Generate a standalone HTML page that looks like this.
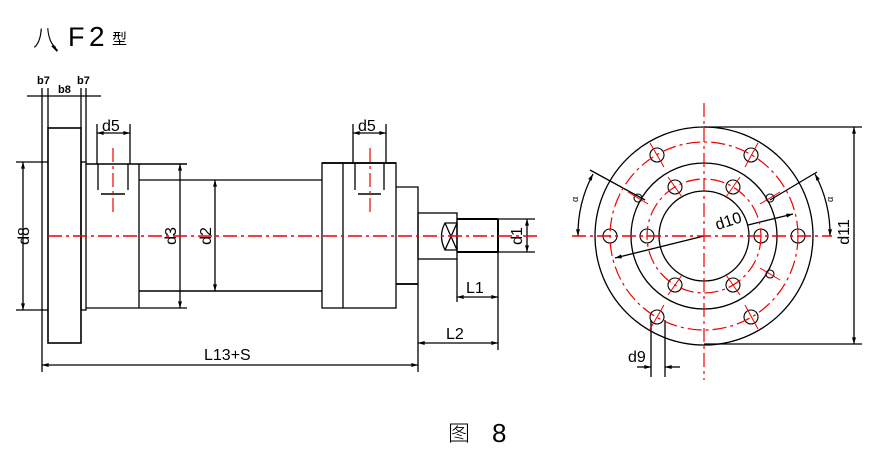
<!DOCTYPE html>
<html><head><meta charset="utf-8"><style>
html,body{margin:0;padding:0;background:#fff;}
svg{display:block;}
text{font-family:"Liberation Sans","Noto Sans CJK SC",sans-serif;fill:#000;}
</style></head><body>
<svg width="870" height="451" viewBox="0 0 870 451" xmlns="http://www.w3.org/2000/svg">
<defs>
<marker id="a" viewBox="0 0 10 6" refX="10" refY="3" markerWidth="7" markerHeight="4" orient="auto-start-reverse" markerUnits="userSpaceOnUse"><path d="M0,0L10,3L0,6z" fill="#000"/></marker>
</defs>
<text x="33" y="46" font-size="24" font-family="Noto Sans CJK SC,sans-serif" font-weight="300">八</text>
<text x="50" y="50" font-size="24" font-family="WenQuanYi Zen Hei,Noto Sans CJK SC,sans-serif">、</text>
<text x="68" y="46" font-size="27" font-weight="300">F</text>
<text x="89" y="46" font-size="28" font-weight="300">2</text>
<text x="112" y="44" font-size="15" font-family="Noto Sans CJK SC,sans-serif">型</text>
<text x="448" y="441" font-size="22" font-family="Noto Sans CJK SC,sans-serif" font-weight="300">图</text>
<text x="492" y="442" font-size="26" font-weight="300">8</text>

<g stroke="#000" fill="none" stroke-width="1.3">
<line x1="42" y1="88" x2="42" y2="372"/>
<rect x="48" y="128" width="33" height="215" stroke-width="1.6"/>
<line x1="48" y1="88" x2="48" y2="128"/><line x1="81" y1="88" x2="81" y2="128"/><line x1="86" y1="88" x2="86" y2="162"/>
<line x1="27" y1="96" x2="101" y2="96"/>
<rect x="81" y="162" width="5" height="148"/>
<line x1="16" y1="162" x2="48" y2="162"/><line x1="16" y1="310" x2="48" y2="310"/>
<line x1="23" y1="162" x2="23" y2="310" marker-start="url(#a)" marker-end="url(#a)"/>
<line x1="86" y1="164" x2="187" y2="164" stroke-width="1.6"/>
<line x1="86" y1="308" x2="187" y2="308"/>
<line x1="139" y1="164" x2="139" y2="308"/>
<line x1="139" y1="180" x2="322" y2="180"/><line x1="139" y1="291" x2="322" y2="291" stroke-width="1.6"/>
<line x1="180" y1="164" x2="180" y2="308" marker-start="url(#a)" marker-end="url(#a)"/>
<line x1="215" y1="180" x2="215" y2="291" marker-start="url(#a)" marker-end="url(#a)"/>
<line x1="98" y1="164" x2="98" y2="190"/><line x1="128" y1="164" x2="128" y2="190"/>
<line x1="101" y1="194" x2="125" y2="194" stroke-width="1.6"/>
<line x1="97" y1="124" x2="97" y2="164"/><line x1="130" y1="124" x2="130" y2="164"/>
<line x1="97" y1="133" x2="130" y2="133" marker-start="url(#a)" marker-end="url(#a)"/>
<rect x="322" y="163" width="74" height="145"/>
<line x1="322" y1="163" x2="396" y2="163" stroke-width="1.8"/>
<line x1="343" y1="163" x2="343" y2="308"/>
<line x1="355" y1="163" x2="355" y2="190"/><line x1="384" y1="163" x2="384" y2="190"/>
<line x1="358" y1="194" x2="381" y2="194" stroke-width="1.6"/>
<line x1="353" y1="124" x2="353" y2="163"/><line x1="386" y1="124" x2="386" y2="163"/>
<line x1="353" y1="133" x2="386" y2="133" marker-start="url(#a)" marker-end="url(#a)"/>
<path d="M396,187H418V284H396"/><line x1="396" y1="284" x2="418" y2="284" stroke-width="1.8"/>
<rect x="418" y="213" width="39" height="46"/>
<rect x="457" y="219" width="41" height="33" stroke-width="1.2"/>
<line x1="457" y1="219" x2="498" y2="219" stroke-width="2"/><line x1="457" y1="252" x2="498" y2="252" stroke-width="2"/>
<line x1="498" y1="219" x2="498" y2="252" stroke-width="2"/>
<path d="M445,223H457V250H445Q438,236 445,223ZM445,223L457,250M457,223L445,250"/>
<line x1="498" y1="219" x2="535" y2="219"/><line x1="498" y1="252" x2="535" y2="252"/>
<line x1="527" y1="219" x2="527" y2="252" marker-start="url(#a)" marker-end="url(#a)"/>
<line x1="457" y1="259" x2="457" y2="302"/><line x1="498" y1="252" x2="498" y2="350"/>
<line x1="418" y1="284" x2="418" y2="372"/>
<line x1="457" y1="297" x2="498" y2="297" marker-start="url(#a)" marker-end="url(#a)"/>
<line x1="418" y1="343" x2="498" y2="343" marker-start="url(#a)" marker-end="url(#a)"/>
<line x1="42" y1="365" x2="418" y2="365" marker-start="url(#a)" marker-end="url(#a)"/>
<circle cx="704" cy="236" r="109"/>
<circle cx="704" cy="236" r="73"/>
<circle cx="704" cy="236" r="45"/>
<g stroke-width="1.1">
<circle cx="610" cy="236" r="7"/><circle cx="798" cy="236" r="7"/>
<circle cx="657" cy="155" r="7"/><circle cx="751" cy="155" r="7"/>
<circle cx="657" cy="317" r="7"/><circle cx="751" cy="317" r="7"/>
<circle cx="647" cy="236" r="7"/><circle cx="761" cy="236" r="7"/>
<circle cx="675" cy="187" r="7"/><circle cx="733" cy="187" r="7"/>
<circle cx="675" cy="285" r="7"/><circle cx="733" cy="285" r="7"/>
<circle cx="638" cy="198" r="4"/><circle cx="770" cy="198" r="4"/><circle cx="770" cy="274" r="4"/>
</g>
<line x1="704" y1="127" x2="862" y2="127"/><line x1="704" y1="344" x2="862" y2="344"/>
<line x1="854" y1="127" x2="854" y2="344" marker-start="url(#a)" marker-end="url(#a)"/>
<line x1="590" y1="170" x2="645" y2="200"/><line x1="817" y1="172" x2="770" y2="200"/>
<path d="M593,174A128,128 0 0 0 578,236" marker-start="url(#a)" marker-end="url(#a)"/>
<path d="M815,174A128,128 0 0 1 830,236" marker-start="url(#a)" marker-end="url(#a)"/>
<line x1="704" y1="236" x2="615" y2="258" marker-end="url(#a)"/>
<line x1="748" y1="225" x2="793" y2="214" marker-end="url(#a)"/>
<line x1="651" y1="320" x2="651" y2="377"/><line x1="665" y1="320" x2="665" y2="377"/>
<line x1="637" y1="367" x2="651" y2="367" marker-end="url(#a)"/><line x1="680" y1="367" x2="665" y2="367" marker-end="url(#a)"/>
</g>
<g stroke="#e00" fill="none" stroke-width="1.2" stroke-dasharray="14,4,3,4">
<line x1="48" y1="236" x2="540" y2="236" stroke-width="1.4"/>
<line x1="113" y1="148" x2="113" y2="215"/>
<line x1="370" y1="148" x2="370" y2="215"/>
<line x1="572" y1="236" x2="832" y2="236" stroke-width="1.4"/>
<line x1="704" y1="103" x2="704" y2="380"/>
<circle cx="704" cy="236" r="94"/>
<circle cx="704" cy="236" r="57"/>
</g>
<g stroke="#e00" stroke-width="1">
<line x1="650" y1="143" x2="664" y2="167"/><line x1="745" y1="167" x2="758" y2="143"/>
<line x1="650" y1="329" x2="664" y2="305"/><line x1="745" y1="305" x2="758" y2="329"/>
<line x1="668" y1="177" x2="682" y2="197"/><line x1="726" y1="197" x2="740" y2="177"/>
<line x1="668" y1="295" x2="682" y2="275"/><line x1="726" y1="275" x2="740" y2="295"/>
<line x1="628" y1="192" x2="648" y2="204"/><line x1="760" y1="204" x2="780" y2="192"/><line x1="760" y1="268" x2="780" y2="280"/>
</g>
<g font-size="14">
<text x="37" y="84" font-size="11" font-weight="bold">b7</text>
<text x="58" y="93" font-size="11" font-weight="bold">b8</text>
<text x="77" y="84" font-size="11" font-weight="bold">b7</text>
<text x="102" y="131" font-size="16">d5</text>
<text x="358" y="131" font-size="16">d5</text>
<text x="466" y="293" font-size="16">L1</text>
<text x="446" y="339" font-size="16">L2</text>
<text x="204" y="360" font-size="16">L13+S</text>
<text x="628" y="362" font-size="16">d9</text>
<text transform="translate(29,236) rotate(-90)" font-size="16" text-anchor="middle">d8</text>
<text transform="translate(176,236) rotate(-90)" font-size="16" text-anchor="middle">d3</text>
<text transform="translate(211,236) rotate(-90)" font-size="16" text-anchor="middle">d2</text>
<text transform="translate(522,236) rotate(-90)" font-size="16" text-anchor="middle">d1</text>
<text transform="translate(849,232) rotate(-90)" font-size="16" text-anchor="middle">d11</text>
<text transform="translate(730,226) rotate(-18)" font-size="16" text-anchor="middle">d10</text>
<text transform="translate(578,202) rotate(-90)" font-size="9">α</text>
<text transform="translate(833,202) rotate(-90)" font-size="9">α</text>
</g>
</svg>
</body></html>
